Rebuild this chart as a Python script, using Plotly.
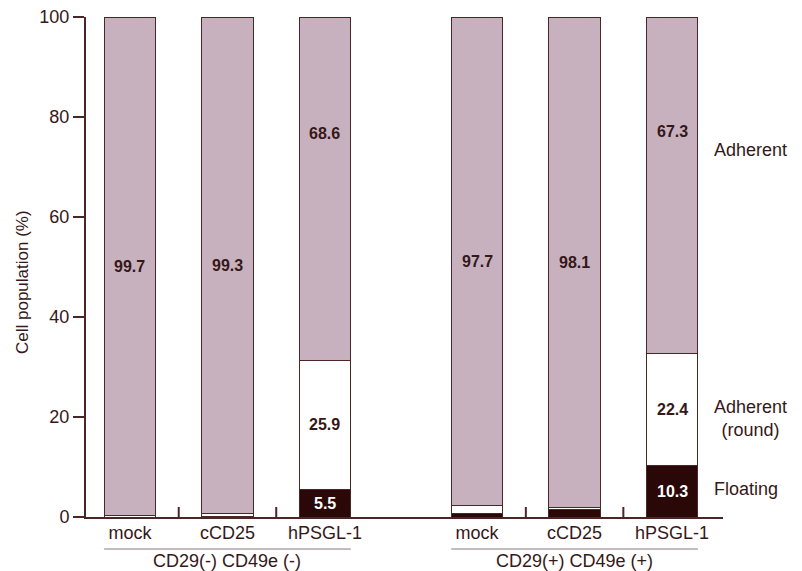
import plotly.graph_objects as go

# ---------------- data ----------------
groups = ["CD29(-) CD49e (-)", "CD29(+) CD49e (+)"]
treatments = ["mock", "cCD25", "hPSGL-1"]

# per group, per treatment (%)
floating = [[0.0, 0.2, 5.5], [0.8, 1.5, 10.3]]
adherent_round = [[0.3, 0.5, 25.9], [1.5, 0.4, 22.4]]
adherent = [[99.7, 99.3, 68.6], [97.7, 98.1, 67.3]]

# which segments carry a printed value
show_floating_label = [False, False, True]
show_round_label = [False, False, True]

series_names = ["Floating", "Adherent (round)", "Adherent"]
y_title = "Cell population (%)"

# ---------------- styling ----------------
TXT = "#351818"
EDGE = "#4a2626"
C_ADH = "#c8b1bf"
C_ROUND = "#ffffff"
C_FLOAT = "#2a0808"
FONT = "Liberation Sans, Arial, sans-serif"
GROUP_GAP = 3.56
BAR_W = 0.53

# positions computed from indices
xs, f_vals, r_vals, a_vals, labels = [], [], [], [], []
for g in range(len(groups)):
    for i, t in enumerate(treatments):
        xs.append(g * GROUP_GAP + i)
        f_vals.append(floating[g][i])
        r_vals.append(adherent_round[g][i])
        a_vals.append(adherent[g][i])
        labels.append(t)

fig = go.Figure()
for name, vals, col in zip(series_names, [f_vals, r_vals, a_vals], [C_FLOAT, C_ROUND, C_ADH]):
    fig.add_trace(go.Bar(
        x=xs, y=vals, name=name, width=BAR_W,
        marker=dict(color=col, line=dict(color=EDGE, width=1)),
        hoverinfo="y+name",
    ))

VAL_SIZE = 16
annotations = []
for k, x in enumerate(xs):
    i = k % len(treatments)
    f, r, a = f_vals[k], r_vals[k], a_vals[k]
    base = f + r
    ya = base + (a / 2 if a >= 90 else 0.66 * a)
    annotations.append(dict(x=x, y=ya, xref="x", yref="y", text=f"<b>{a}</b>",
                            showarrow=False, font=dict(size=VAL_SIZE, color=TXT, family=FONT)))
    if show_round_label[i]:
        annotations.append(dict(x=x, y=f + r / 2, xref="x", yref="y", text=f"<b>{r}</b>",
                                showarrow=False, font=dict(size=VAL_SIZE, color=TXT, family=FONT)))
    if show_floating_label[i]:
        annotations.append(dict(x=x, y=f / 2, xref="x", yref="y", text=f"<b>{f}</b>",
                                showarrow=False, font=dict(size=VAL_SIZE, color="white", family=FONT)))

shapes = []
for g, gname in enumerate(groups):
    x_first = g * GROUP_GAP
    x_last = g * GROUP_GAP + len(treatments) - 1
    # small separators between bars
    for i in range(len(treatments) - 1):
        xm = x_first + i + 0.5
        shapes.append(dict(type="line", xref="x", yref="y", x0=xm, x1=xm, y0=0, y1=2,
                           line=dict(color=EDGE, width=2)))
    # underline of group
    shapes.append(dict(type="line", xref="x", yref="paper", ysizemode="pixel", yanchor=0,
                       x0=x_first - BAR_W / 2, x1=x_last + BAR_W / 2, y0=-32, y1=-32,
                       line=dict(color="#8a7a7a", width=1)))
    annotations.append(dict(x=(x_first + x_last) / 2, y=0, xref="x", yref="paper",
                            yanchor="top", yshift=-32, text=gname, showarrow=False,
                            font=dict(size=18, color=TXT, family=FONT)))

# right-side series labels
annotations += [
    dict(x=1, y=73.4, xref="paper", yref="y", xanchor="left", xshift=-11, text="Adherent",
         showarrow=False, font=dict(size=18, color=TXT, family=FONT)),
    dict(x=1, y=19.8, xref="paper", yref="y", xanchor="left", xshift=-11, text="Adherent<br>(round)",
         align="center", showarrow=False, font=dict(size=18, color=TXT, family=FONT)),
    dict(x=1, y=5.6, xref="paper", yref="y", xanchor="left", xshift=-11, text="Floating",
         showarrow=False, font=dict(size=18, color=TXT, family=FONT)),
    # y-axis title
    dict(x=0, y=0.47, xref="paper", yref="paper", xanchor="center", yanchor="middle",
         xshift=-64, textangle=-90, text=y_title, showarrow=False,
         font=dict(size=17, color=TXT, family=FONT)),
]

# page body has an 8px margin: size the figure to fill the rest of the window
fig.update_layout(
    width=794, height=563,
    margin=dict(l=78, r=79, t=9, b=54, autoexpand=False),
    barmode="stack",
    showlegend=False,
    plot_bgcolor="white", paper_bgcolor="white",
    font=dict(family=FONT, color=TXT),
    annotations=annotations,
    shapes=shapes,
    xaxis=dict(range=[-0.451, 6.082], tickvals=xs, ticktext=labels, ticks="",
               showline=True, linecolor=EDGE, linewidth=2, showgrid=False, zeroline=False,
               automargin=False,
               tickfont=dict(size=18, color=TXT), ticklabelstandoff=-2),
    yaxis=dict(range=[0, 100], tickvals=[0, 20, 40, 60, 80, 100], ticks="outside",
               ticklen=11, tickwidth=2, tickcolor=EDGE, showline=True, linecolor=EDGE,
               linewidth=2, showgrid=False, zeroline=False, ticklabeloverflow="allow",
               automargin=False,
               tickfont=dict(size=18, color=TXT)),
)

fig.write_html("out.html")
